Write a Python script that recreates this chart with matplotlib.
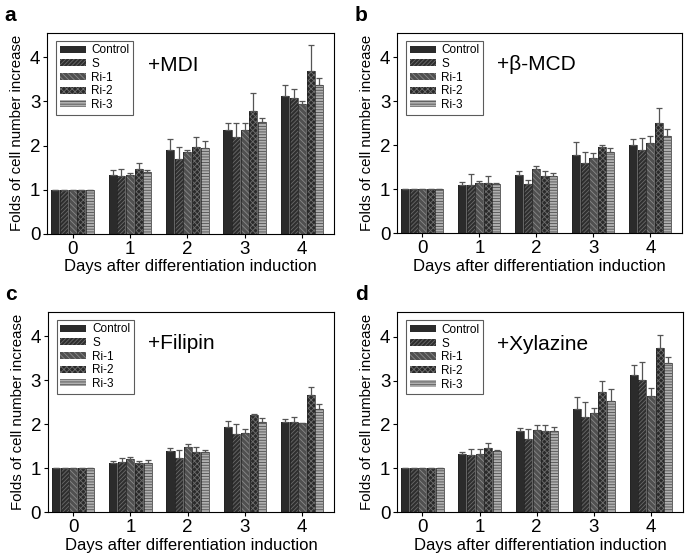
import matplotlib
matplotlib.use("Agg")
import matplotlib.pyplot as plt
import numpy as np

plt.rcParams['font.family'] = ['Liberation Sans', 'DejaVu Sans']
plt.rcParams['hatch.linewidth'] = 0.6

days = [0, 1, 2, 3, 4]
groups = ["Control", "S", "Ri-1", "Ri-2", "Ri-3"]

# mean values per group (rows) per day (columns), and upper error-bar tops
mdi_val = [[1, 1.33, 1.90, 2.34, 3.13],
           [1, 1.32, 1.70, 2.20, 3.08],
           [1, 1.34, 1.86, 2.35, 2.95],
           [1, 1.47, 1.97, 2.79, 3.69],
           [1, 1.41, 1.94, 2.54, 3.38]]
mdi_top = [[1, 1.45, 2.15, 2.50, 3.38],
           [1, 1.46, 1.97, 2.50, 3.28],
           [1, 1.38, 1.89, 2.50, 3.00],
           [1, 1.60, 2.20, 3.20, 4.27],
           [1, 1.44, 2.10, 2.62, 3.52]]

mcd_val = [[1, 1.09, 1.32, 1.78, 2.00],
           [1, 1.10, 1.12, 1.60, 1.88],
           [1, 1.15, 1.47, 1.70, 2.05],
           [1, 1.14, 1.31, 1.95, 2.51],
           [1, 1.12, 1.31, 1.85, 2.22]]
mcd_top = [[1, 1.16, 1.41, 2.08, 2.15],
           [1, 1.34, 1.22, 1.85, 2.17],
           [1, 1.18, 1.52, 1.82, 2.20],
           [1, 1.30, 1.42, 2.01, 2.84],
           [1, 1.15, 1.36, 1.93, 2.37]]

fil_val = [[1, 1.11, 1.38, 1.93, 2.06],
           [1, 1.14, 1.23, 1.77, 2.05],
           [1, 1.20, 1.49, 1.81, 2.03],
           [1, 1.12, 1.36, 2.20, 2.67],
           [1, 1.12, 1.36, 2.04, 2.35]]
fil_top = [[1, 1.17, 1.46, 2.08, 2.12],
           [1, 1.23, 1.41, 2.01, 2.17],
           [1, 1.25, 1.56, 1.90, 2.03],
           [1, 1.17, 1.48, 2.23, 2.85],
           [1, 1.18, 1.42, 2.13, 2.45]]

xyl_val = [[1, 1.32, 1.86, 2.35, 3.12],
           [1, 1.30, 1.66, 2.17, 3.02],
           [1, 1.33, 1.87, 2.25, 2.65],
           [1, 1.47, 1.85, 2.75, 3.75],
           [1, 1.39, 1.86, 2.54, 3.40]]
xyl_top = [[1, 1.37, 1.93, 2.63, 3.36],
           [1, 1.44, 1.89, 2.50, 3.42],
           [1, 1.43, 1.99, 2.37, 2.83],
           [1, 1.58, 1.98, 3.00, 4.03],
           [1, 1.42, 1.94, 2.80, 3.54]]

panels = [
    ("a", "+MDI", mdi_val, mdi_top, [0.069, 0.581, 0.419, 0.360]),
    ("b", "+\u03b2-MCD", mcd_val, mcd_top, [0.580, 0.582, 0.416, 0.359]),
    ("c", "+Filipin", fil_val, fil_top, [0.070, 0.082, 0.418, 0.359]),
    ("d", "+Xylazine", xyl_val, xyl_top, [0.580, 0.082, 0.417, 0.358]),
]

facecolors = ["#2b2b2b", "#2e2e2e", "#505050", "#2a2a2a", "#b0b0b0"]
hatches = [None, "////////", "\\\\\\\\\\\\", "xxxxxx", "------"]
hatchcols = ["#2b2b2b", "#6a6a6a", "#8a8a8a", "#6e6e6e", "#505050"]

fig = plt.figure(figsize=(6.85, 5.58), dpi=100)
x = np.array(days)
w = 0.14
offs = [-0.30, -0.15, 0.0, 0.15, 0.30]

for letter, title, vals, tops, pos in panels:
    ax = fig.add_axes(pos)
    for i, g in enumerate(groups):
        v = np.array(vals[i])
        err = np.array(tops[i]) - v
        ax.bar(x + offs[i], v, w, color=facecolors[i], edgecolor=hatchcols[i],
               hatch=hatches[i], linewidth=0, label=g)
        ax.bar(x + offs[i], v, w, color="none", edgecolor="#222222", linewidth=0.5)
        ax.errorbar(x + offs[i], v, yerr=[np.zeros_like(err), err], fmt="none",
                    ecolor="#555555", elinewidth=0.9, capsize=2.5, capthick=0.9)
    ax.set_xlim(-0.44, 4.56)
    ax.set_ylim(0, 4.55)
    ax.set_xticks(days)
    ax.set_yticks([0, 1, 2, 3, 4])
    ax.tick_params(labelsize=13.5, length=3, direction="out", pad=2)
    ax.set_xlabel("Days after differentiation induction", fontsize=12, labelpad=1)
    ax.set_ylabel("Folds of cell number increase", fontsize=10.8, labelpad=4)
    ax.text(0.35, 0.84, title, transform=ax.transAxes, fontsize=15, va="center")
    leg = ax.legend(loc="upper left", bbox_to_anchor=(0.01, 0.99), fontsize=8.5,
                    frameon=True, fancybox=False, edgecolor="#333333",
                    handlelength=2.2, handleheight=0.55, labelspacing=0.14,
                    borderpad=0.3, handletextpad=0.5)
    leg.get_frame().set_linewidth(0.8)
    fig.text(pos[0] - 0.062, pos[1] + pos[3] + 0.015, letter, fontsize=15,
             fontweight="bold", va="bottom")

fig.savefig("out.png", dpi=100)
